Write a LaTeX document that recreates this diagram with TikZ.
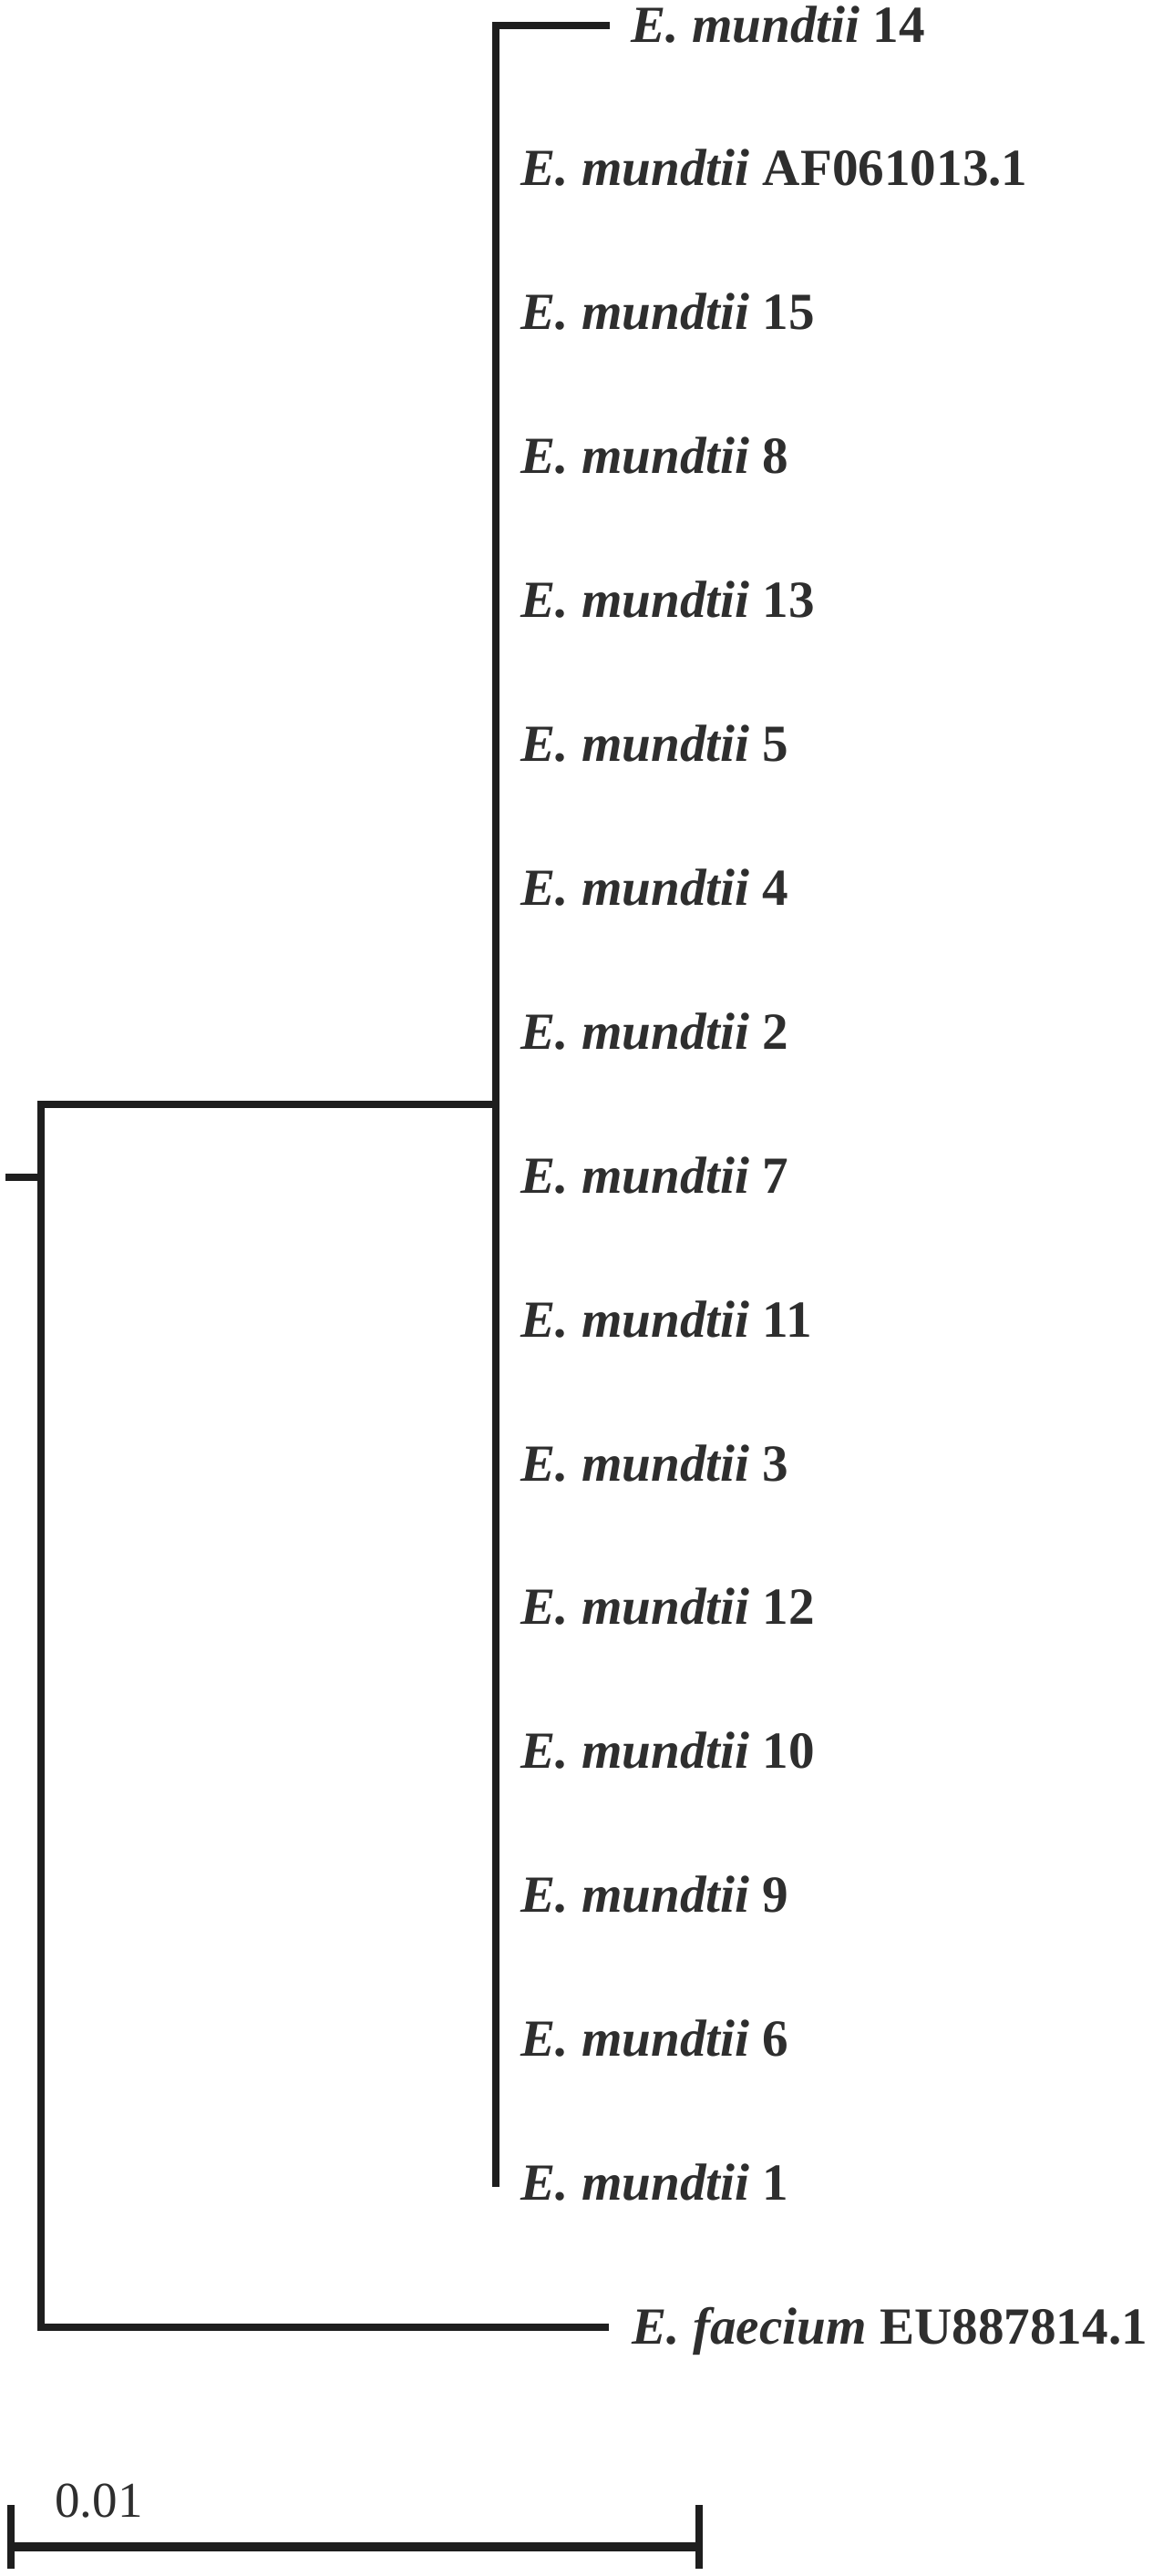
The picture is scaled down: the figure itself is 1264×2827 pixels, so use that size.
\documentclass[tikz,border=0pt]{standalone}
\usepackage{fontspec}
\setmainfont{Liberation Serif}
\definecolor{linecol}{HTML}{1E1E1E}
\definecolor{textcol}{HTML}{2E2E2E}
\begin{document}
\begin{tikzpicture}[x=0.5pt,y=-0.5pt,
  branch/.style={draw=linecol,line width=4.25pt,line join=miter},
  taxon/.style={anchor=base west,inner sep=0pt,text=textcol,font=\fontsize{28.6}{30}\selectfont\bfseries},
  scalelbl/.style={anchor=base west,inner sep=0pt,text=textcol,font=\fontsize{27.5}{29}\selectfont}]
\useasboundingbox[fill=white] (0,0) rectangle (1264,2827);
% leaf labels
\node[taxon] (t0) at (692,46) {\textit{E. mundtii} 14};
\foreach \lab [count=\i] in {AF061013.1,15,8,13,5,4,2,7,11,3,12,10,9,6,1}{
  \node[taxon] (t\i) at (571,{46+157.9*\i}) {\textit{E. mundtii} \lab};
}
\node[taxon] (tf) at (693,2572) {\textit{E. faecium} EU887814.1};
% internal coordinates
\coordinate (r0) at (6,1292);
\coordinate (r) at (45,1292);
\coordinate (rtop) at (45,1212);
\coordinate (rbot) at (45,2554);
\coordinate (c) at (544,1212);
\coordinate (ctop) at (544,28);
\coordinate (cbot) at (544,2400);
\coordinate (e14) at (669,28);
\coordinate (ef) at (668,2554);
% branches
\draw[branch] (e14) -- (ctop) -- (cbot);
\draw[branch] (c) -- (rtop) -- (rbot) -- (ef);
\draw[branch] (r0) -- (r);
% scale bar
\coordinate (s1) at (12,2795);
\coordinate (s2) at (767,2795);
\draw[draw=linecol,line width=5pt] (s1) -- (s2);
\draw[draw=linecol,line width=4pt] ([yshift=23pt]s1) -- ([yshift=-12pt]s1);
\draw[draw=linecol,line width=4pt] ([yshift=23pt]s2) -- ([yshift=-12pt]s2);
\node[scalelbl] (sl) at (60,2762) {0.01};
\end{tikzpicture}
\end{document}
